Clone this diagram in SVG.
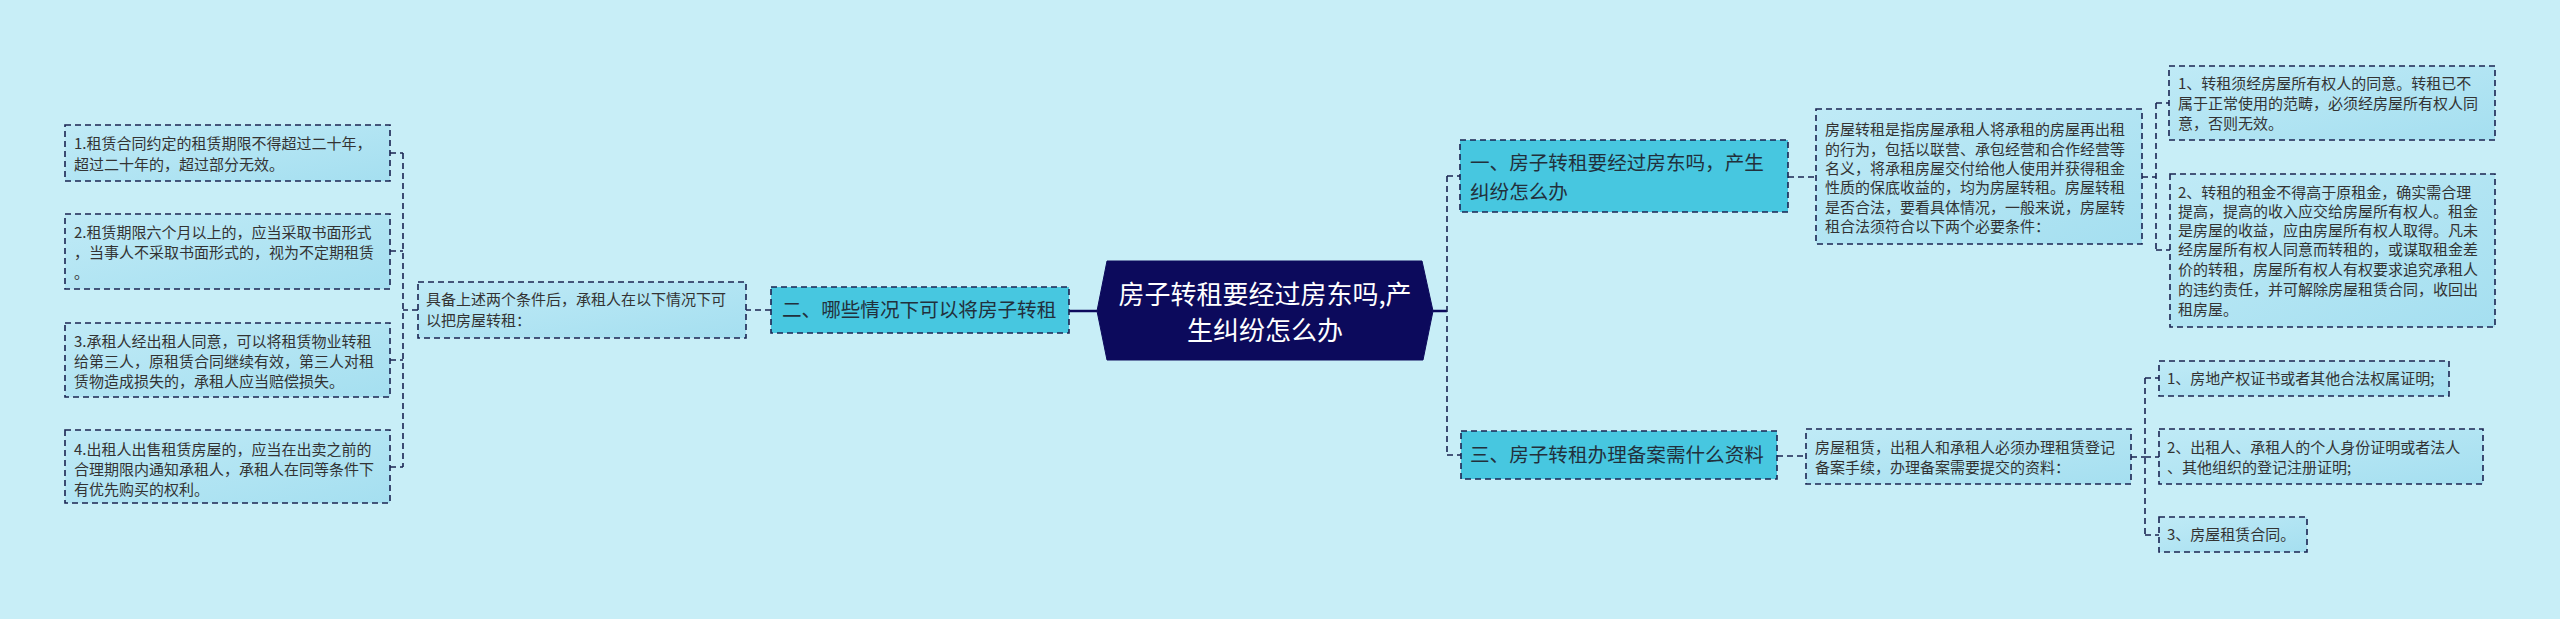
<svg xmlns="http://www.w3.org/2000/svg" width="2560" height="619" viewBox="0 0 2560 619">
<defs>
<linearGradient id="leafGrad" x1="0" y1="0" x2="1" y2="1">
<stop offset="0" stop-color="#bfeaf6"/>
<stop offset="1" stop-color="#a5dff0"/>
</linearGradient>
<style>
.leaf{fill:url(#leafGrad);stroke:#1b2452;stroke-width:1.6;stroke-dasharray:6 4;}
.sub{fill:#47c7e0;stroke:#1b2452;stroke-width:1.6;stroke-dasharray:6 4;}
.conn{fill:none;stroke:#1b2452;stroke-width:1.6;stroke-dasharray:6 4;}
.solid{fill:none;stroke:#0c0a5c;stroke-width:2.5;}
.t{font-family:"Noto Sans CJK SC","Noto Sans",sans-serif;font-size:15px;fill:#333333;}
.ts{font-family:"Noto Sans CJK SC","Noto Sans",sans-serif;font-size:19.6px;fill:#22303c;}
.tc{font-family:"Noto Sans CJK SC","Noto Sans",sans-serif;font-size:26px;fill:#ffffff;text-anchor:middle;}
</style>
</defs>
<rect x="0" y="0" width="2560" height="619" fill="#c8eef7"/>

<g id="connectors">
<path class="solid" d="M1097 311 L1069 311"/>
<path class="conn" d="M771 310 L746 310"/>
<path class="conn" d="M418 310 L403 310"/>
<path class="conn" d="M403 153 L403 467"/>
<path class="conn" d="M390 153 L403 153"/>
<path class="conn" d="M390 251 L403 251"/>
<path class="conn" d="M390 360 L403 360"/>
<path class="conn" d="M390 467 L403 467"/>
<path class="solid" d="M1433 311 L1447 311"/>
<path class="conn" d="M1447 176 L1447 455"/>
<path class="conn" d="M1447 176 L1460 176"/>
<path class="conn" d="M1447 455 L1461 455"/>
<path class="conn" d="M1788 177 L1816 177"/>
<path class="conn" d="M2142 177 L2156 177"/>
<path class="conn" d="M2156 103 L2156 250"/>
<path class="conn" d="M2156 103 L2169 103"/>
<path class="conn" d="M2156 250 L2170 250"/>
<path class="conn" d="M1777 456 L1806 456"/>
<path class="conn" d="M2131 457 L2145 457"/>
<path class="conn" d="M2145 378 L2145 535"/>
<path class="conn" d="M2145 378 L2159 378"/>
<path class="conn" d="M2145 457 L2159 457"/>
<path class="conn" d="M2145 535 L2159 535"/>
</g>

<g id="center">
<polygon points="1107,261 1422,261 1433,311 1423,360 1107,360 1097,311" fill="#0c0a5c" stroke="#0c0a5c" stroke-width="1"/>
<text class="tc" x="1265" y="304">房子转租要经过房东吗,产</text>
<text class="tc" x="1265" y="340">生纠纷怎么办</text>
</g>

<g id="n2">
<rect class="sub" x="771" y="287" width="298" height="46"/>
<text class="ts" x="782" y="317">二、哪些情况下可以将房子转租</text>
</g>

<g id="n2a">
<rect class="leaf" x="418" y="282" width="328" height="56"/>
<text class="t" x="426" y="305">具备上述两个条件后，承租人在以下情况下可</text>
<text class="t" x="426" y="326">以把房屋转租：</text>
</g>

<g id="l1">
<rect class="leaf" x="65" y="125" width="325" height="56"/>
<text class="t" x="74" y="149">1.租赁合同约定的租赁期限不得超过二十年，</text>
<text class="t" x="74" y="170">超过二十年的，超过部分无效。</text>
</g>
<g id="l2">
<rect class="leaf" x="65" y="214" width="325" height="75"/>
<text class="t" x="74" y="238">2.租赁期限六个月以上的，应当采取书面形式</text>
<text class="t" x="74" y="258">，当事人不采取书面形式的，视为不定期租赁</text>
<text class="t" x="74" y="278">。</text>
</g>
<g id="l3">
<rect class="leaf" x="65" y="323" width="325" height="74"/>
<text class="t" x="74" y="347">3.承租人经出租人同意，可以将租赁物业转租</text>
<text class="t" x="74" y="367">给第三人，原租赁合同继续有效，第三人对租</text>
<text class="t" x="74" y="387">赁物造成损失的，承租人应当赔偿损失。</text>
</g>
<g id="l4">
<rect class="leaf" x="65" y="430" width="325" height="73"/>
<text class="t" x="74" y="455">4.出租人出售租赁房屋的，应当在出卖之前的</text>
<text class="t" x="74" y="475">合理期限内通知承租人，承租人在同等条件下</text>
<text class="t" x="74" y="495">有优先购买的权利。</text>
</g>

<g id="n1">
<rect class="sub" x="1460" y="140" width="328" height="72"/>
<text class="ts" x="1470" y="170">一、房子转租要经过房东吗，产生</text>
<text class="ts" x="1470" y="199">纠纷怎么办</text>
</g>

<g id="n1a">
<rect class="leaf" x="1816" y="109" width="326" height="135"/>
<text class="t" x="1825" y="135">房屋转租是指房屋承租人将承租的房屋再出租</text>
<text class="t" x="1825" y="155">的行为，包括以联营、承包经营和合作经营等</text>
<text class="t" x="1825" y="174">名义，将承租房屋交付给他人使用并获得租金</text>
<text class="t" x="1825" y="193">性质的保底收益的，均为房屋转租。房屋转租</text>
<text class="t" x="1825" y="213">是否合法，要看具体情况，一般来说，房屋转</text>
<text class="t" x="1825" y="232">租合法须符合以下两个必要条件：</text>
</g>

<g id="r1">
<rect class="leaf" x="2169" y="66" width="326" height="74"/>
<text class="t" x="2178" y="89">1、转租须经房屋所有权人的同意。转租已不</text>
<text class="t" x="2178" y="109">属于正常使用的范畴，必须经房屋所有权人同</text>
<text class="t" x="2178" y="129">意，否则无效。</text>
</g>

<g id="r2">
<rect class="leaf" x="2170" y="174" width="325" height="153"/>
<text class="t" x="2178" y="198">2、转租的租金不得高于原租金，确实需合理</text>
<text class="t" x="2178" y="217">提高，提高的收入应交给房屋所有权人。租金</text>
<text class="t" x="2178" y="236">是房屋的收益，应由房屋所有权人取得。凡未</text>
<text class="t" x="2178" y="255">经房屋所有权人同意而转租的，或谋取租金差</text>
<text class="t" x="2178" y="275">价的转租，房屋所有权人有权要求追究承租人</text>
<text class="t" x="2178" y="295">的违约责任，并可解除房屋租赁合同，收回出</text>
<text class="t" x="2178" y="315">租房屋。</text>
</g>

<g id="n3">
<rect class="sub" x="1461" y="431" width="316" height="48"/>
<text class="ts" x="1470" y="462">三、房子转租办理备案需什么资料</text>
</g>

<g id="n3a">
<rect class="leaf" x="1806" y="429" width="325" height="55"/>
<text class="t" x="1815" y="453">房屋租赁，出租人和承租人必须办理租赁登记</text>
<text class="t" x="1815" y="473">备案手续，办理备案需要提交的资料：</text>
</g>

<g id="b1">
<rect class="leaf" x="2159" y="361" width="290" height="35"/>
<text class="t" x="2167" y="384">1、房地产权证书或者其他合法权属证明;</text>
</g>
<g id="b2">
<rect class="leaf" x="2159" y="429" width="324" height="55"/>
<text class="t" x="2167" y="453">2、出租人、承租人的个人身份证明或者法人</text>
<text class="t" x="2167" y="473">、其他组织的登记注册证明;</text>
</g>
<g id="b3">
<rect class="leaf" x="2159" y="517" width="148" height="35"/>
<text class="t" x="2167" y="540">3、房屋租赁合同。</text>
</g>
</svg>
